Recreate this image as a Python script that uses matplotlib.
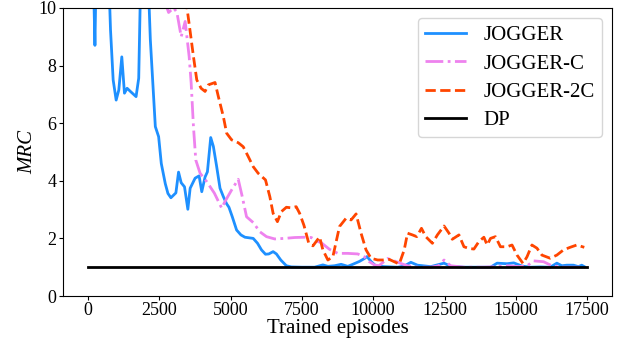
import numpy as np
import matplotlib.pyplot as plt

plt.rcParams['font.family'] = ['Liberation Serif', 'DejaVu Serif']
plt.rcParams['mathtext.fontset'] = 'stix'

# JOGGER (values above 10 run off the top of the plot)
jog_x = [0, 170, 245, 300, 500, 756, 791, 884, 989, 1082, 1187, 1280, 1373, 1489,
         1687, 1780, 1838, 2000, 2129, 2187, 2362, 2478, 2571, 2711, 2804, 2908,
         3083, 3176, 3269, 3385, 3502, 3583, 3757, 3897, 3990, 4106, 4188, 4304,
         4397, 4513, 4630, 4746, 4862, 4943, 5060, 5211, 5363, 5504, 5793, 5945,
         6084, 6224, 6340, 6491, 6607, 6759, 6956, 7131, 7500, 7946, 8236, 8411,
         8643, 8876, 9109, 9283, 9516, 9690, 9783, 9923, 10097, 10388, 10854,
         11087, 11320, 11552, 12017, 12483, 12716, 13181, 14112, 14344, 14693,
         14926, 15216, 15507, 15856, 16205, 16438, 16612, 16787, 17020, 17194,
         17310, 17400]
jog_y = [15, 12, 8.7, 12, 13, 10.3, 9.24, 7.5, 6.8, 7.15, 8.3, 7.04, 7.21, 7.1,
         6.92, 7.56, 10.5, 12, 10.5, 8.9, 5.88, 5.53, 4.6, 3.9, 3.56, 3.41,
         3.58, 4.3, 3.93, 3.79, 3.01, 3.74, 4.09, 4.17, 3.62, 4.13, 4.31, 5.5,
         5.19, 4.49, 3.74, 3.45, 3.2, 3.08, 2.75, 2.29, 2.12, 2.04, 2.0, 1.83,
         1.6, 1.45, 1.46, 1.54, 1.46, 1.25, 1.05, 1.01, 1.0, 1.0, 1.08, 1.03,
         1.05, 1.1, 1.03, 1.1, 1.2, 1.3, 1.37, 1.2, 1.04, 1.02, 1.0,
         1.04, 1.17, 1.07, 1.02, 1.14, 1.03, 1.0, 1.0, 1.14, 1.12,
         1.15, 1.04, 1.0, 1.01, 1.0, 1.14, 1.05, 1.07, 1.07, 1.02,
         1.07, 1.02]

# JOGGER-C
jc_x = [2600, 2827, 3001, 3118, 3269, 3408, 3548, 3618, 3699, 3780, 3932, 4164,
        4432, 4688, 4804, 5036, 5269, 5409, 5560, 5793, 6026, 6259, 6549, 6898,
        7247, 7596, 7829, 8062, 8178, 8469, 8760, 9109, 9458, 9690, 9865, 10040,
        10200, 10505, 10737, 10970, 11203, 11552, 12017, 12300, 12483, 12716,
        13181, 13880, 14344, 14700, 15100, 15400, 15623, 15972, 16263, 16600,
        17000, 17400]
jc_y = [10.5, 9.84, 10.0, 9.85, 9.0, 9.53, 8.31, 7.4, 5.88, 4.72, 4.26, 3.97,
        3.57, 3.05, 3.28, 3.68, 4.05, 3.45, 2.75, 2.55, 2.23, 2.06, 1.98, 2.0,
        2.03, 2.04, 2.03, 1.89, 1.85, 1.62, 1.48, 1.48, 1.46, 1.36, 1.19, 1.08,
        1.05, 1.3, 1.22, 1.13, 1.05, 1.0, 1.0, 1.05, 1.25, 1.05,
        1.0, 1.0, 1.02, 1.05, 1.02, 1.05, 1.22, 1.19, 1.05, 1.0,
        1.0, 1.0]

# JOGGER-2C
j2c_x = [3300, 3467, 3583, 3699, 3815, 3967, 4106, 4223, 4455, 4572, 4746, 4862,
         5036, 5269, 5444, 5619, 5793, 5968, 6224, 6376, 6491, 6642, 6782, 6956,
         7131, 7300, 7421, 7573, 7736, 7887, 8120, 8236, 8411, 8585, 8818, 9050,
         9225, 9400, 9574, 9749, 9923, 10156, 10330, 10563, 10737, 10912, 11087,
         11203, 11377, 11528, 11692, 11842, 12075, 12250, 12483, 12657, 12773,
         13006, 13181, 13355, 13530, 13705, 13880, 13995, 14112, 14286, 14460,
         14693, 14867, 15042, 15251, 15391, 15565, 15740, 15914, 16205, 16438,
         16670, 16903, 17136, 17400]
j2c_y = [11, 10.04, 9.18, 8.31, 7.5, 7.21, 7.1, 7.33, 7.41, 6.92, 6.23, 5.65,
         5.42, 5.32, 5.18, 4.84, 4.49, 4.26, 4.03, 3.45, 2.87, 2.58, 2.93, 3.08,
         3.06, 3.1, 2.87, 2.45, 1.85, 1.74, 2.05, 1.6, 1.25, 1.36, 2.41, 2.7,
         2.64, 2.85, 2.18, 1.6, 1.31, 1.25, 1.25, 1.27, 1.19, 1.11, 1.6,
         2.18, 2.12, 2.06, 2.35, 2.06, 1.83, 2.12, 2.43, 2.18, 1.97,
         2.12, 1.71, 1.65, 1.63, 1.89, 2.04, 1.77, 2.0, 2.06, 1.71,
         1.71, 1.77, 1.42, 1.13, 1.36, 1.77, 1.66, 1.42, 1.31, 1.42,
         1.6, 1.69, 1.77, 1.69]

# DP baseline
dp_x = [0, 17500]
dp_y = [1.0, 1.0]

fig, ax = plt.subplots(figsize=(6.33, 3.43), dpi=100)
fig.subplots_adjust(left=0.0995, right=0.967, top=0.977, bottom=0.137)

ax.plot(jog_x, jog_y, color='dodgerblue', linewidth=2, label='JOGGER')
ax.plot(jc_x, jc_y, color='violet', linewidth=2, linestyle='-.', label='JOGGER-C')
ax.plot(j2c_x, j2c_y, color='orangered', linewidth=2, linestyle='--', label='JOGGER-2C')
ax.plot(dp_x, dp_y, color='black', linewidth=2, label='DP')

ax.set_ylim(0, 10)
ax.set_xlim(-875, 18375)
ax.set_xticks([0, 2500, 5000, 7500, 10000, 12500, 15000, 17500])
ax.set_yticks([0, 2, 4, 6, 8, 10])
ax.tick_params(labelsize=13, pad=1.5, length=3)
ax.set_xlabel('Trained episodes', fontsize=15, labelpad=0)
ax.set_ylabel('MRC', fontsize=15, fontstyle='italic', labelpad=1)
ax.legend(loc='upper right', fontsize=15, labelspacing=0.42, borderpad=0.35)

fig.savefig('out.png')
